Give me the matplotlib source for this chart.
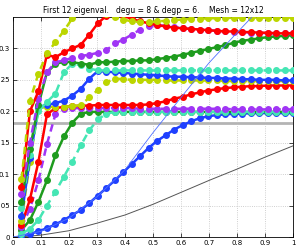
import numpy as np
import matplotlib
matplotlib.use('Agg')
import matplotlib.pyplot as plt

# parameter grid (33 samples, k/33)
x = np.arange(1, 34) / 33.0

# eigenvalue curves
blue_lo = [0.002, 0.005, 0.009, 0.014, 0.020, 0.027, 0.035, 0.043, 0.054, 0.066, 0.078,
           0.090, 0.103, 0.116, 0.129, 0.142, 0.153, 0.162, 0.171, 0.178, 0.184, 0.189,
           0.192, 0.194, 0.195, 0.196, 0.196, 0.197, 0.197, 0.197, 0.197, 0.197, 0.197]
green_lo = [0.011, 0.027, 0.056, 0.090, 0.130, 0.160, 0.182, 0.196, 0.199, 0.199, 0.199,
            0.199, 0.199, 0.199, 0.199, 0.199, 0.199, 0.199, 0.199, 0.199, 0.199, 0.199,
            0.199, 0.199, 0.199, 0.199, 0.199, 0.199, 0.199, 0.199, 0.199, 0.199, 0.199]
cyan_lo = [0.005, 0.013, 0.027, 0.050, 0.072, 0.096, 0.120, 0.146, 0.170, 0.187, 0.196,
           0.199, 0.199, 0.199, 0.199, 0.199, 0.199, 0.199, 0.199, 0.199, 0.199, 0.199,
           0.199, 0.199, 0.199, 0.199, 0.199, 0.199, 0.199, 0.199, 0.199, 0.199, 0.199]
purple_lo = [0.016, 0.045, 0.090, 0.148, 0.195, 0.204, 0.205, 0.205, 0.205, 0.205, 0.205,
             0.205, 0.205, 0.205, 0.204, 0.204, 0.204, 0.204, 0.204, 0.204, 0.204, 0.204,
             0.204, 0.204, 0.204, 0.203, 0.203, 0.203, 0.203, 0.203, 0.203, 0.203, 0.203]
red_lo = [0.019, 0.060, 0.120, 0.195, 0.205, 0.207, 0.208, 0.209, 0.209, 0.210, 0.210,
          0.210, 0.210, 0.210, 0.210, 0.211, 0.213, 0.216, 0.220, 0.223, 0.227, 0.230,
          0.233, 0.235, 0.237, 0.238, 0.239, 0.240, 0.240, 0.241, 0.241, 0.241, 0.241]
yellow_lo = [0.026, 0.120, 0.205, 0.207, 0.207, 0.207, 0.208, 0.210, 0.222, 0.234, 0.246,
             0.252, 0.251, 0.250, 0.250, 0.250, 0.250, 0.249, 0.249, 0.249, 0.249, 0.249,
             0.249, 0.249, 0.248, 0.248, 0.248, 0.248, 0.248, 0.248, 0.248, 0.248, 0.248]
blue_hi = [0.033, 0.125, 0.207, 0.210, 0.213, 0.217, 0.225, 0.236, 0.252, 0.264, 0.263,
           0.262, 0.261, 0.260, 0.259, 0.258, 0.257, 0.256, 0.255, 0.255, 0.254, 0.254,
           0.253, 0.253, 0.252, 0.252, 0.251, 0.251, 0.250, 0.250, 0.250, 0.249, 0.249]
cyan_hi = [0.046, 0.130, 0.200, 0.215, 0.228, 0.262, 0.276, 0.273, 0.268, 0.265, 0.265,
           0.265, 0.265, 0.265, 0.265, 0.265, 0.265, 0.265, 0.265, 0.265, 0.265, 0.265,
           0.265, 0.265, 0.265, 0.265, 0.265, 0.265, 0.265, 0.265, 0.265, 0.265, 0.265]
green_hi = [0.056, 0.140, 0.210, 0.262, 0.275, 0.279, 0.278, 0.276, 0.274, 0.278, 0.278,
            0.279, 0.280, 0.280, 0.281, 0.281, 0.283, 0.285, 0.287, 0.290, 0.293, 0.296,
            0.299, 0.302, 0.305, 0.309, 0.312, 0.314, 0.316, 0.318, 0.319, 0.320, 0.321]
purple_hi = [0.068, 0.150, 0.220, 0.262, 0.278, 0.281, 0.285, 0.288, 0.290, 0.293, 0.297,
             0.308, 0.314, 0.322, 0.330, 0.336, 0.337, 0.336, 0.334, 0.332, 0.331, 0.330,
             0.329, 0.328, 0.327, 0.326, 0.326, 0.325, 0.325, 0.324, 0.324, 0.324, 0.324]
red_hi = [0.080, 0.200, 0.232, 0.290, 0.286, 0.294, 0.300, 0.306, 0.322, 0.340, 0.352,
          0.356, 0.352, 0.347, 0.343, 0.340, 0.337, 0.335, 0.333, 0.332, 0.331, 0.330,
          0.329, 0.328, 0.327, 0.327, 0.326, 0.326, 0.325, 0.325, 0.324, 0.324, 0.324]
yellow_hi = [0.092, 0.217, 0.260, 0.292, 0.310, 0.328, 0.348, 0.370, 0.375, 0.365, 0.355,
             0.350, 0.346, 0.343, 0.342, 0.342, 0.343, 0.344, 0.345, 0.346, 0.347, 0.347,
             0.348, 0.348, 0.348, 0.349, 0.349, 0.349, 0.349, 0.349, 0.349, 0.349, 0.349]

# thin reference curves
ref_blue_x = [0.0, 0.1, 0.2, 0.3, 0.4, 0.5, 0.6, 0.7, 0.8, 0.9]
ref_blue_y = [0.0, 0.009, 0.030, 0.064, 0.107, 0.166, 0.222, 0.277, 0.325, 0.372]
ref_gray_x = [0.0, 0.05, 0.1, 0.2, 0.3, 0.4, 0.5, 0.6, 0.7, 0.8, 0.9, 1.0]
ref_gray_y = [0.0, 0.001, 0.003, 0.010, 0.022, 0.035, 0.052, 0.071, 0.090, 0.108, 0.127, 0.145]
threshold = 0.181

RED = '#ff0000'
GREEN = '#1e9c1e'
BLUE = '#1f40ff'
PURPLE = '#a035f5'
CYAN = '#45e6b4'
YELLOW = '#bcd600'

curves = [
    (blue_lo, BLUE, '-'), (green_lo, GREEN, '-'), (cyan_lo, CYAN, '--'),
    (purple_lo, PURPLE, '--'), (red_lo, RED, '-'), (yellow_lo, YELLOW, '--'),
    (blue_hi, BLUE, '-'), (cyan_hi, CYAN, '--'), (green_hi, GREEN, '-'),
    (purple_hi, PURPLE, '--'), (red_hi, RED, '-'), (yellow_hi, YELLOW, '--'),
]

fig = plt.figure(figsize=(2.98, 2.45), dpi=100)
ax = fig.add_axes([13 / 298, 8 / 245, 280 / 298, 220 / 245])

ax.axhline(threshold, color='#b4b4b4', linewidth=2.0, zorder=1)
ax.plot(ref_gray_x, ref_gray_y, color='#555555', linewidth=0.7, zorder=2)

for vals, col, ls in curves:
    ax.plot(x, vals, color=col, linestyle=ls, linewidth=1.8,
            marker='o', markersize=4, markerfacecolor=col,
            markeredgecolor=col, dashes=(3, 2) if ls == '--' else (None, None),
            zorder=3)

ax.plot(ref_blue_x, ref_blue_y, color='#5070ff', linewidth=0.6, zorder=4)

ax.set_xlim(0, 1)
ax.set_ylim(0, 0.35)
ax.set_xticks(np.arange(0, 1.01, 0.1))
ax.set_xticklabels(['0', '0.1', '0.2', '0.3', '0.4', '0.5', '0.6', '0.7', '0.8', '0.9', '1'])
ax.set_yticks([0, 0.05, 0.1, 0.15, 0.2, 0.25, 0.3])
ax.set_yticklabels(['0', '0.05', '0.1', '0.15', '0.2', '0.25', '0.3'])
ax.tick_params(direction='in', labelsize=5, length=3, width=0.5, pad=2,
               top=True, right=True)
ax.grid(True, linestyle=':', color='#c0c0c0', linewidth=0.6)
for s in ax.spines.values():
    s.set_linewidth(0.6)

ax.set_title('First 12 eigenval.   degu = 8 & degp = 6.    Mesh = 12x12',
             fontsize=5.5, pad=3)

fig.savefig('out.png', dpi=100)
